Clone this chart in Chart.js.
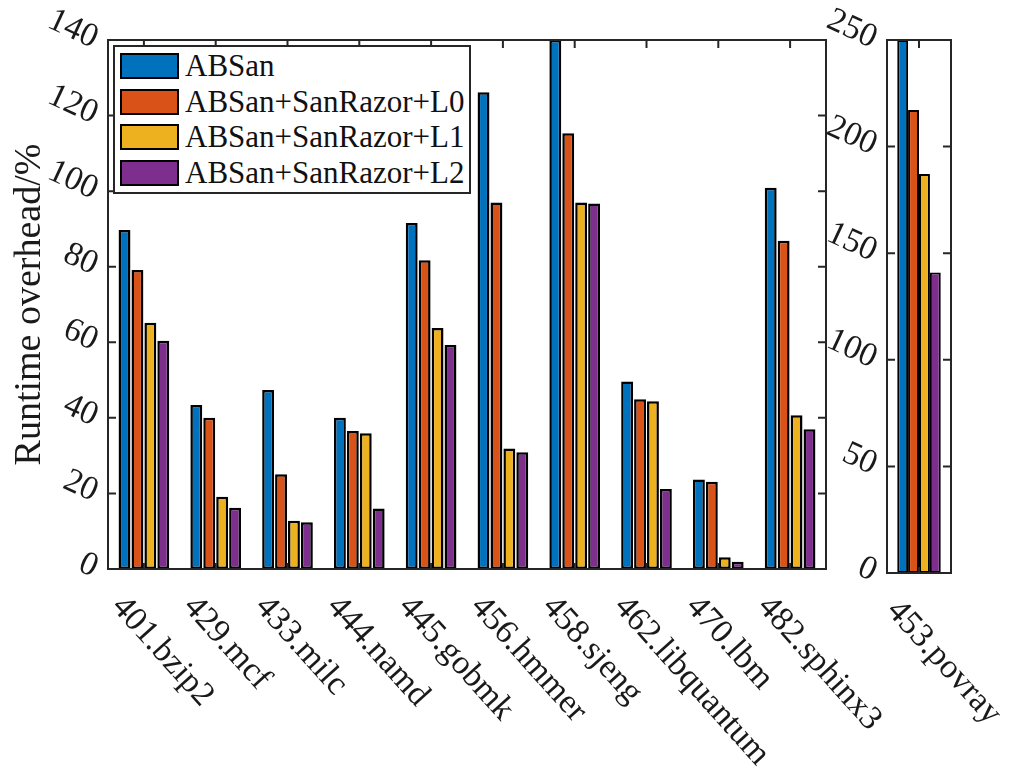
<!DOCTYPE html>
<html lang="en">
<head>
    <meta charset="UTF-8">
    <title>Runtime overhead</title>
    <style>
        body {
            margin: 0;
            background: #fff;
            font-family: "Liberation Serif", "Times New Roman", serif;
        }
        #wrap {
            position: relative;
            width: 1010px;
            height: 772px;
            overflow: hidden;
        }
        #wrap canvas {
            position: absolute;
            top: 0;
        }
        #legend {
            position: absolute;
            left: 113px;
            top: 45px;
            width: 358px;
            height: 149px;
            box-sizing: border-box;
            border: 2px solid #262626;
            background: #fff;
            padding: 1px 0 0 5px;
        }
        .row {
            display: flex;
            align-items: center;
            height: 35.7px;
            font-size: 31px;
            color: #111;
            white-space: nowrap;
        }
        .sw {
            width: 59px;
            height: 26px;
            box-sizing: border-box;
            border: 2px solid #000;
            margin-right: 6px;
        }
    </style>
    <script src="https://cdn.jsdelivr.net/npm/chart.js"></script>
</head>
<body>
<div id="wrap">
    <canvas id="mainChart" width="1010" height="772" style="left:0"></canvas>
    <canvas id="povChart" width="190" height="772" style="left:820px"></canvas>
    <div id="legend"></div>
</div>
<script>
    // benchmark names
    const categories = ['401.bzip2', '429.mcf', '433.milc', '444.namd', '445.gobmk',
                        '456.hmmer', '458.sjeng', '462.libquantum', '470.lbm', '482.sphinx3'];
    const sideCategories = ['453.povray'];

    const seriesNames = ['ABSan', 'ABSan+SanRazor+L0', 'ABSan+SanRazor+L1', 'ABSan+SanRazor+L2'];
    const seriesColors = ['#0072BD', '#D95319', '#EDB120', '#7E2F8E'];

    // runtime overhead (%) - left axis
    const absan = [89.7, 43.4, 47.4, 40.0, 91.6, 126.2, 140, 49.6, 23.7, 100.9];
    const absanL0 = [79.1, 40.0, 25.1, 36.5, 81.7, 97.0, 115.3, 44.9, 23.1, 86.9];
    const absanL1 = [65.2, 19.1, 12.8, 35.9, 63.8, 31.9, 97.0, 44.4, 3.1, 40.7];
    const absanL2 = [60.4, 16.2, 12.4, 16.0, 59.3, 30.9, 96.7, 21.2, 1.9, 37.0];

    // 453.povray on its own axis
    const povAbsan = [250];
    const povL0 = [217.2];
    const povL1 = [187.1];
    const povL2 = [140.9];

    const TEXT = '#1a1a1a';
    const AXIS = '#262626';
    const FONT = '"Liberation Serif", "Times New Roman", serif';

    // box around the axes, inward ticks, slanted category labels
    const frame = {
        id: 'frame',
        afterDatasetsDraw(chart) {
            const { ctx, chartArea: a, scales: { x, y } } = chart;
            ctx.save();
            ctx.strokeStyle = AXIS;
            ctx.lineWidth = 2;
            ctx.strokeRect(a.left, a.top, a.right - a.left, a.bottom - a.top);
            ctx.beginPath();
            y.ticks.forEach(t => {
                if (t.value <= y.min || t.value >= y.max) return;
                const py = y.getPixelForValue(t.value);
                ctx.moveTo(a.left, py); ctx.lineTo(a.left + 8, py);
                ctx.moveTo(a.right, py); ctx.lineTo(a.right - 8, py);
            });
            chart.data.labels.forEach((_, i) => {
                const px = x.getPixelForTick(i);
                ctx.moveTo(px, a.top); ctx.lineTo(px, a.top + 8);
                ctx.moveTo(px, a.bottom); ctx.lineTo(px, a.bottom - 6);
            });
            ctx.stroke();

            ctx.fillStyle = TEXT;
            ctx.font = '34px ' + FONT;
            ctx.textAlign = 'left';
            ctx.textBaseline = 'top';
            chart.data.labels.forEach((lab, i) => {
                ctx.save();
                ctx.translate(x.getPixelForTick(i) - 14, a.bottom + 21);
                ctx.rotate(48 * Math.PI / 180);
                ctx.fillText(lab, 0, 0);
                ctx.restore();
            });
            ctx.restore();
        }
    };

    function makeSets(arrs, barPct, catPct, bw) {
        return arrs.map((d, i) => ({
            label: seriesNames[i],
            data: d,
            backgroundColor: seriesColors[i],
            borderColor: '#000',
            borderWidth: bw,
            borderSkipped: false,
            barPercentage: barPct,
            categoryPercentage: catPct
        }));
    }

    function yAxis(max, step, width, title) {
        return {
            min: 0,
            max: max,
            grid: { display: false, drawTicks: false },
            border: { display: false },
            ticks: {
                stepSize: step,
                autoSkip: false,
                minRotation: -25,
                maxRotation: -25,
                padding: 12,
                color: TEXT,
                font: { family: FONT, size: 34 }
            },
            title: title ? {
                display: true,
                text: title,
                color: TEXT,
                font: { family: FONT, size: 38 },
                padding: { top: 7, bottom: 0 }
            } : { display: false },
            afterFit(scale) { scale.width = width; }
        };
    }

    function xAxis(height) {
        return {
            grid: { display: false },
            border: { display: false },
            ticks: { display: false },
            afterFit(scale) { scale.height = height; }
        };
    }

    const common = {
        responsive: false,
        animation: false,
        plugins: { legend: { display: false }, tooltip: { enabled: false } }
    };

    new Chart(document.getElementById('mainChart'), {
        type: 'bar',
        data: { labels: categories, datasets: makeSets([absan, absanL0, absanL1, absanL2], 0.92, 0.72, 2.5) },
        options: {
            ...common,
            layout: { padding: { top: 40, right: 184, bottom: 0, left: 0 } },
            scales: {
                x: xAxis(203),
                y: yAxis(140, 20, 108, 'Runtime overhead/%')
            }
        },
        plugins: [frame]
    });

    new Chart(document.getElementById('povChart'), {
        type: 'bar',
        data: { labels: sideCategories, datasets: makeSets([povAbsan, povL0, povL1, povL2], 1, 0.68, 2) },
        options: {
            ...common,
            layout: { padding: { top: 40, right: 59, bottom: 0, left: 0 } },
            scales: {
                x: xAxis(199),
                y: yAxis(250, 50, 67, null)
            }
        },
        plugins: [frame]
    });

    // legend
    const legend = document.getElementById('legend');
    seriesNames.forEach((name, i) => {
        const row = document.createElement('div');
        row.className = 'row';
        const sw = document.createElement('span');
        sw.className = 'sw';
        sw.style.background = seriesColors[i];
        const txt = document.createElement('span');
        txt.textContent = name;
        row.appendChild(sw);
        row.appendChild(txt);
        legend.appendChild(row);
    });
</script>
</body>
</html>
